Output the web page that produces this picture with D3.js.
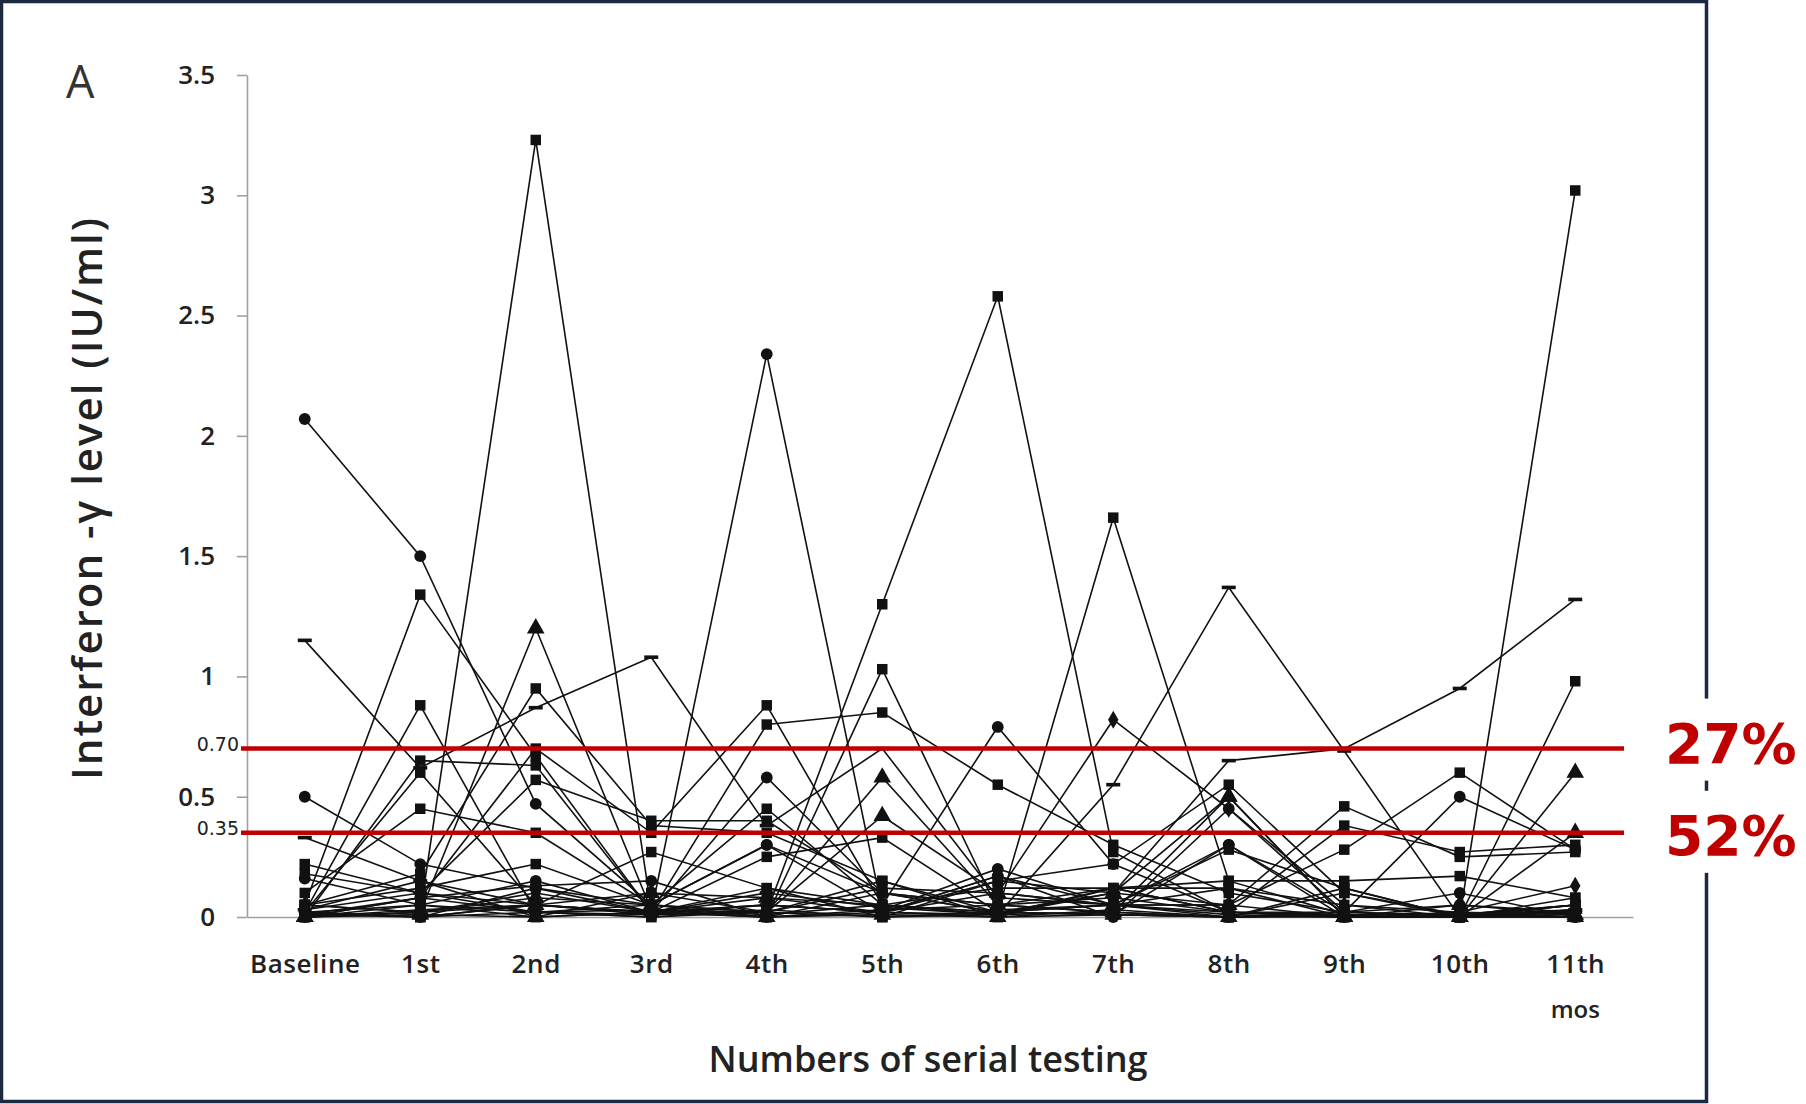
<!DOCTYPE html>
<html>
<head>
<meta charset="utf-8">
<script src="https://d3js.org/d3.v7.min.js"></script>
<style>
  body { margin: 0; background: #fff; }
  svg { display: block; }
</style>
</head>
<body>
<script>
// serial testing time points
const categories = ["Baseline", "1st", "2nd", "3rd", "4th", "5th", "6th", "7th", "8th", "9th", "10th", "11th"];
const yTicks = [0, 0.5, 1, 1.5, 2, 2.5, 3, 3.5];
const cutoffs = [0.70, 0.35];
const cutoffLabels = ["0.70", "0.35"];
const cutoffShares = ["27%", "52%"];

// interferon-gamma level per patient (IU/ml)
const p01 = [2.07, 1.50, 0.47, 0.05, 0.30, 0.02, 0.17, 0.05, 0.30, 0.02, 0.50, 0.28];
const p02 = [0.05, 1.34, 0.67, 0.02, 0.12, 0.05, 0.01, 0.12, 0.02, 0.00, 0.01, 0.05];
const p03 = [0.00, 0.02, 3.23, 0.03, 0.00, 0.10, 0.02, 0.01, 0.00, 0.12, 0.00, 0.02];
const p04 = [0.02, 0.00, 0.12, 0.02, 2.34, 0.03, 0.20, 0.05, 0.00, 0.01, 0.00, 0.00];
const p05 = [0.01, 0.08, 0.02, 0.00, 0.02, 1.30, 2.58, 0.27, 0.02, 0.00, 0.00, 0.03];
const p06 = [0.02, 0.00, 0.05, 0.01, 0.02, 0.00, 0.02, 1.66, 0.15, 0.01, 0.00, 0.01];
const p07 = [0.00, 0.05, 0.00, 0.02, 0.05, 0.02, 0.00, 0.03, 0.00, 0.01, 0.00, 3.02];
const p08 = [1.15, 0.62, 0.87, 1.08, 0.38, 0.70, 0.08, 0.05, 0.02, 0.00, 0.01, 0.03];
const p09 = [0.33, 0.15, 0.05, 0.02, 0.10, 0.04, 0.01, 0.55, 1.37, 0.69, 0.00, 0.02];
const p10 = [0.03, 0.10, 0.02, 0.01, 0.05, 0.02, 0.01, 0.10, 0.65, 0.70, 0.95, 1.32];
const p11 = [0.05, 0.02, 0.10, 0.02, 0.05, 0.02, 0.10, 0.82, 0.45, 0.05, 0.02, 0.13];
const p12 = [0.16, 0.05, 0.02, 0.03, 0.01, 0.05, 0.79, 0.22, 0.02, 0.01, 0.00, 0.03];
const p13 = [0.05, 0.02, 0.05, 0.02, 0.80, 0.85, 0.55, 0.30, 0.10, 0.02, 0.00, 0.05];
const p14 = [0.00, 0.08, 0.70, 0.35, 0.88, 0.05, 0.02, 0.01, 0.00, 0.02, 0.01, 0.00];
const p15 = [0.02, 0.00, 0.05, 0.02, 0.00, 1.03, 0.03, 0.05, 0.01, 0.00, 0.02, 0.01];
const p16 = [0.00, 0.02, 1.20, 0.03, 0.02, 0.58, 0.05, 0.02, 0.50, 0.00, 0.00, 0.00];
const p17 = [0.02, 0.88, 0.02, 0.05, 0.00, 0.03, 0.05, 0.02, 0.00, 0.10, 0.01, 0.00];
const p18 = [0.05, 0.18, 0.95, 0.38, 0.35, 0.15, 0.02, 0.05, 0.12, 0.00, 0.01, 0.05];
const p19 = [0.02, 0.05, 0.15, 0.02, 0.58, 0.10, 0.02, 0.01, 0.30, 0.00, 0.01, 0.02];
const p20 = [0.00, 0.02, 0.08, 0.05, 0.02, 0.42, 0.10, 0.05, 0.05, 0.00, 0.00, 0.35];
const p21 = [0.50, 0.22, 0.12, 0.05, 0.30, 0.10, 0.05, 0.08, 0.02, 0.02, 0.05, 0.02];
const p22 = [0.22, 0.10, 0.05, 0.02, 0.08, 0.02, 0.15, 0.10, 0.05, 0.28, 0.60, 0.28];
const p23 = [0.01, 0.00, 0.02, 0.00, 0.03, 0.00, 0.01, 0.02, 0.00, 0.01, 0.00, 0.98];
const p24 = [0.00, 0.01, 0.00, 0.02, 0.00, 0.01, 0.00, 0.01, 0.00, 0.00, 0.00, 0.60];
const p25 = [0.05, 0.12, 0.22, 0.05, 0.02, 0.12, 0.10, 0.05, 0.05, 0.46, 0.25, 0.27];
const p26 = [0.10, 0.45, 0.35, 0.05, 0.45, 0.05, 0.12, 0.12, 0.15, 0.15, 0.17, 0.08];
const p27 = [0.00, 0.65, 0.63, 0.02, 0.25, 0.33, 0.02, 0.05, 0.28, 0.12, 0.00, 0.05];
const p28 = [0.18, 0.10, 0.57, 0.40, 0.40, 0.10, 0.05, 0.12, 0.02, 0.38, 0.27, 0.30];
const p29 = [0.00, 0.03, 0.05, 0.10, 0.08, 0.05, 0.02, 0.10, 0.50, 0.00, 0.05, 0.01];
const p30 = [0.02, 0.60, 0.05, 0.27, 0.12, 0.00, 0.15, 0.22, 0.55, 0.10, 0.00, 0.05];
const p31 = [0.00, 0.08, 0.13, 0.15, 0.00, 0.02, 0.17, 0.00, 0.45, 0.02, 0.10, 0.00];
const p32 = [0.03, 0.15, 0.00, 0.10, 0.02, 0.15, 0.00, 0.12, 0.12, 0.05, 0.00, 0.08];

const patients = [p01, p02, p03, p04, p05, p06, p07, p08, p09, p10, p11, p12, p13, p14, p15, p16,
                  p17, p18, p19, p20, p21, p22, p23, p24, p25, p26, p27, p28, p29, p30, p31, p32];
const markers = ["circle", "square", "square", "circle", "square", "square", "square", "dash",
                 "dash", "dash", "diamond", "circle", "square", "square", "square", "triangle",
                 "square", "square", "circle", "triangle", "circle", "square", "square", "triangle",
                 "square", "square", "square", "square", "triangle", "square", "circle", "square"];

var W = 1806, H = 1104;
var font = "'Open Sans', 'DejaVu Sans', sans-serif";

var svg = d3.select("body").append("svg")
    .attr("width", W)
    .attr("height", H);

// scales
var x = d3.scalePoint().domain(categories).range([247, 1633]).padding(0.5);
var y = d3.scaleLinear().domain([0, 3.5]).range([917, 75]);

// outer frame
svg.append("rect")
    .attr("x", 1.5).attr("y", 1.5)
    .attr("width", 1705).attr("height", 1100)
    .attr("fill", "none")
    .attr("stroke", "#1b2a41")
    .attr("stroke-width", 3.5);

// axes
var yAxis = d3.axisLeft(y).tickValues(yTicks).tickFormat(d3.format("~g"))
    .tickSize(10).tickSizeOuter(0).tickPadding(22);
var xAxis = d3.axisBottom(x).tickSize(0).tickSizeOuter(0).tickPadding(38);

var gy = svg.append("g")
    .attr("transform", "translate(" + x.range()[0] + ",0)")
    .call(yAxis);
var gx = svg.append("g")
    .attr("transform", "translate(0," + y(0) + ")")
    .call(xAxis);

[gx, gy].forEach(function(g) {
  g.selectAll("path, line").attr("stroke", "#a0a0a0").attr("stroke-width", 1.6);
  g.selectAll("text")
      .attr("fill", "#222")
      .style("font-family", font)
      .style("font-weight", 600)
      .style("font-size", "26px");
});
gx.selectAll("text").style("letter-spacing", "0.6px");

svg.append("text")
    .attr("x", x(categories[categories.length - 1]))
    .attr("y", 1018)
    .attr("text-anchor", "middle")
    .attr("fill", "#222")
    .style("font-family", font)
    .style("font-weight", 600)
    .style("font-size", "24px")
    .text("mos");

// patient lines
var line = d3.line()
    .x(function(d, i) { return x(categories[i]); })
    .y(function(d) { return y(d); });

svg.append("g").selectAll("path")
    .data(patients)
  .enter().append("path")
    .attr("d", line)
    .attr("fill", "none")
    .attr("stroke", "#111")
    .attr("stroke-width", 1.6);

// markers
var symbols = {
  circle: d3.symbol().type(d3.symbolCircle).size(110),
  square: d3.symbol().type(d3.symbolSquare).size(110),
  triangle: d3.symbol().type(d3.symbolTriangle).size(135),
  diamond: d3.symbol().type(d3.symbolDiamond).size(95)
};

patients.forEach(function(vals, k) {
  var m = markers[k];
  var g = svg.append("g");
  vals.forEach(function(v, i) {
    var cx = x(categories[i]), cy = y(v);
    if (m === "dash") {
      g.append("rect")
          .attr("x", cx - 7).attr("y", cy - 1.8)
          .attr("width", 14).attr("height", 3.6)
          .attr("fill", "#111");
    } else {
      g.append("path")
          .attr("d", symbols[m]())
          .attr("transform", "translate(" + cx + "," + cy + ")")
          .attr("fill", "#111");
    }
  });
});

// cutoff lines
var labelDy = [14, 22];
cutoffs.forEach(function(c, i) {
  svg.append("line")
      .attr("x1", x.range()[0] - 6).attr("x2", x.range()[1] - 9)
      .attr("y1", y(c)).attr("y2", y(c))
      .attr("stroke", "#c00000")
      .attr("stroke-width", 4.5);
  svg.append("text")
      .attr("x", x.range()[0] - 8)
      .attr("y", y(c) + 2)
      .attr("text-anchor", "end")
      .attr("fill", "#222")
      .style("font-family", "'DejaVu Sans', sans-serif")
      .style("font-size", "19px")
      .text(cutoffLabels[i]);
  var ty = y(c) + labelDy[i];
  svg.append("rect")
      .attr("x", 1650).attr("y", ty - 64)
      .attr("width", 156).attr("height", 82)
      .attr("fill", "#fff");
  svg.append("text")
      .attr("x", 1665)
      .attr("y", ty)
      .attr("fill", "#c00000")
      .style("font-family", "'DejaVu Sans', sans-serif")
      .style("font-weight", "bold")
      .style("font-size", "55px")
      .text(cutoffShares[i]);
});

// titles
svg.append("text")
    .attr("x", 66).attr("y", 98)
    .attr("fill", "#333")
    .style("font-family", font)
    .style("font-size", "45px")
    .text("A");

svg.append("text")
    .attr("transform", "translate(102,498) rotate(-90)")
    .attr("text-anchor", "middle")
    .attr("fill", "#222")
    .style("font-family", font)
    .style("font-weight", 600)
    .style("font-size", "42px")
    .style("letter-spacing", "2px")
    .text("Interferon -γ level (IU/ml)");

svg.append("text")
    .attr("x", 928).attr("y", 1072)
    .attr("text-anchor", "middle")
    .attr("fill", "#222")
    .style("font-family", font)
    .style("font-weight", 600)
    .style("font-size", "36px")
    .text("Numbers of serial testing");
</script>
</body>
</html>
